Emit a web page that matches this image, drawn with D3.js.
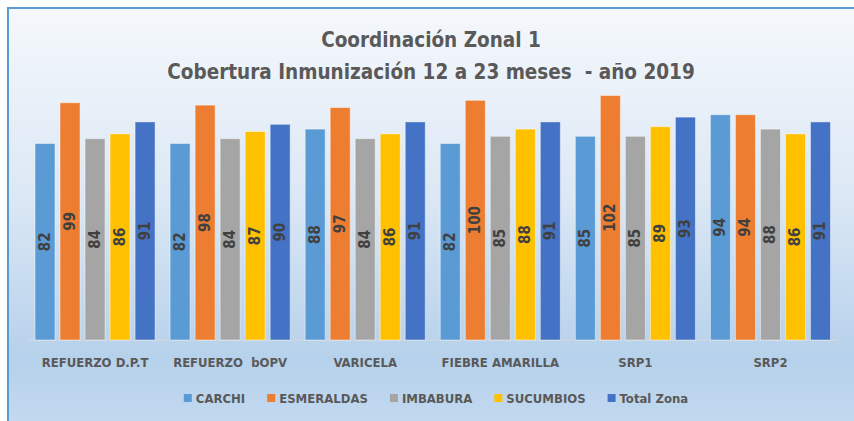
<!DOCTYPE html>
<html>
<head>
<meta charset="utf-8">
<script src="https://cdn.jsdelivr.net/npm/d3@7"></script>
<style>
  body { margin: 0; background: #fff; }
  svg text { font-family: "Liberation Sans Narrow", "DejaVu Sans Condensed", "Open Sans", sans-serif; white-space: pre; }
</style>
</head>
<body>
<svg width="854" height="421"></svg>
<script>
var categories = ["REFUERZO D.P.T", "REFUERZO  bOPV", "VARICELA", "FIEBRE AMARILLA", "SRP1", "SRP2"];
var series = ["CARCHI", "ESMERALDAS", "IMBABURA", "SUCUMBIOS", "Total Zona"];
var colors = ["#5b9bd5", "#ed7d31", "#a5a5a5", "#ffc000", "#4472c4"];

var carchi     = [82, 82, 88, 82, 85, 94];
var esmeraldas = [99, 98, 97, 100, 102, 94];
var imbabura   = [84, 84, 84, 85, 85, 88];
var sucumbios  = [86, 87, 86, 88, 89, 86];
var totalZona  = [91, 90, 91, 91, 93, 91];

var titleLines = ["Coordinación Zonal 1", "Cobertura Inmunización 12 a 23 meses  - año 2019"];

var values = [carchi, esmeraldas, imbabura, sucumbios, totalZona];

var svg = d3.select("svg");

// background with gradient
var defs = svg.append("defs");
var grad = defs.append("linearGradient")
    .attr("id", "bg")
    .attr("x1", 0).attr("y1", 0).attr("x2", 0).attr("y2", 1);
grad.append("stop").attr("offset", "0%").attr("stop-color", "#f5f8fc");
grad.append("stop").attr("offset", "45%").attr("stop-color", "#dce8f5");
grad.append("stop").attr("offset", "85%").attr("stop-color", "#b6d1eb");
grad.append("stop").attr("offset", "100%").attr("stop-color", "#c2d9ef");

svg.append("rect")
   .attr("x", 7).attr("y", 7)
   .attr("width", 847).attr("height", 414)
   .attr("fill", "url(#bg)");
svg.append("line")
   .attr("x1", 8).attr("y1", 7).attr("x2", 8).attr("y2", 421)
   .attr("stroke", "#5b9bd5").attr("stroke-width", 2);
svg.append("line")
   .attr("x1", 7).attr("y1", 8).attr("x2", 854).attr("y2", 8)
   .attr("stroke", "#5b9bd5").attr("stroke-width", 2);

// title
svg.selectAll(".title")
   .data(titleLines)
   .enter().append("text")
   .attr("class", "title")
   .attr("x", 431)
   .attr("y", function(d, i) { return 40 + i * 32; })
   .attr("text-anchor", "middle")
   .attr("dominant-baseline", "central")
   .attr("font-size", "20.5px")
   .attr("font-weight", "bold")
   .attr("fill", "#595959")
   .text(function(d) { return d; });

var x0 = d3.scaleBand().domain(categories).range([27.5, 838]);
var x1 = d3.scaleBand().domain(series).range([7.5, x0.bandwidth() - 7.5]).paddingInner(0.2);
var y = d3.scaleLinear().domain([0, 120]).range([340, 52.4]);

var g = svg.append("g");

// x axis line
g.append("line")
 .attr("x1", 27.5).attr("x2", 838)
 .attr("y1", y(0)).attr("y2", y(0))
 .attr("stroke", "#d9d9d9")
 .attr("stroke-width", 1);

var groups = g.selectAll(".grp")
  .data(categories)
  .enter().append("g")
  .attr("class", "grp")
  .attr("transform", function(d) { return "translate(" + x0(d) + ",0)"; });

groups.selectAll("rect")
  .data(function(d, ci) { return series.map(function(s, si) { return { s: s, si: si, v: values[si][ci] }; }); })
  .enter().append("rect")
  .attr("x", function(d) { return x1(d.s); })
  .attr("y", function(d) { return y(d.v); })
  .attr("width", x1.bandwidth())
  .attr("height", function(d) { return y(0) - y(d.v); })
  .attr("fill", function(d) { return colors[d.si]; })
  .attr("stroke", "#ffffff")
  .attr("stroke-opacity", 0.45)
  .attr("stroke-width", 1);

groups.selectAll(".lbl")
  .data(function(d, ci) { return series.map(function(s, si) { return { s: s, si: si, v: values[si][ci] }; }); })
  .enter().append("text")
  .attr("class", "lbl")
  .attr("transform", function(d) {
      var cx = x1(d.s) + x1.bandwidth() / 2;
      var cy = (y(d.v) + y(0)) / 2;
      return "translate(" + cx + "," + cy + ") rotate(-90)";
  })
  .attr("text-anchor", "middle")
  .attr("dominant-baseline", "central")
  .attr("font-size", "15px")
  .attr("font-weight", "bold")
  .attr("fill", "#404040")
  .text(function(d) { return d.v; });

// category labels
g.selectAll(".cat")
 .data(categories)
 .enter().append("text")
 .attr("class", "cat")
 .attr("x", function(d) { return x0(d) + x0.bandwidth() / 2; })
 .attr("y", 362)
 .attr("text-anchor", "middle")
 .attr("dominant-baseline", "central")
 .attr("font-size", "13px")
 .attr("font-weight", "bold")
 .attr("fill", "#595959")
 .text(function(d) { return d; });

// legend
var legend = svg.append("g");
var items = legend.selectAll(".leg")
  .data(series)
  .enter().append("g")
  .attr("class", "leg");
items.append("rect")
  .attr("width", 8).attr("height", 8)
  .attr("y", -4)
  .attr("fill", function(d, i) { return colors[i]; });
items.append("text")
  .attr("x", 12)
  .attr("dominant-baseline", "central")
  .attr("font-size", "13px")
  .attr("font-weight", "bold")
  .attr("fill", "#595959")
  .text(function(d) { return d; });

var pos = 0;
items.each(function() {
    var w = d3.select(this).select("text").node().getComputedTextLength();
    d3.select(this).attr("transform", "translate(" + pos + ",398)");
    pos += 12 + w + 22;
});
pos -= 22;
legend.attr("transform", "translate(" + (436 - pos / 2) + ",0)");
</script>
</body>
</html>
